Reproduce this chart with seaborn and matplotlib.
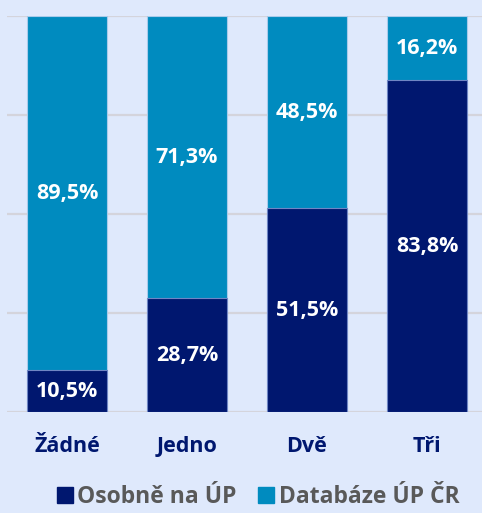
import matplotlib
matplotlib.use("Agg")
import matplotlib.pyplot as plt
import seaborn as sns
import numpy as np
from matplotlib.lines import Line2D

categories = ["Žádné", "Jedno", "Dvě", "Tři"]
osobne = [10.5, 28.7, 51.5, 83.8]
databaze = [89.5, 71.3, 48.5, 16.2]
series_names = ["Osobně na ÚP", "Databáze ÚP ČR"]

navy = "#00176F"
teal = "#008BBF"
bg = "#DFE9FC"
grid_c = "#D4D4DC"
legend_text = "#595959"

sns.set_theme(style="white")
plt.rcParams['font.family'] = ['Open Sans', 'DejaVu Sans']

fig = plt.figure(figsize=(4.82, 5.13), dpi=100, facecolor=bg)
ax = fig.add_axes([7/482, 1 - 412/513, 480/482, 396/513])
ax.set_facecolor(bg)

totals = [a + b for a, b in zip(osobne, databaze)]
sns.barplot(x=categories, y=totals, color=teal, width=0.667, ax=ax,
            edgecolor="#A9CBEA", linewidth=0.8, saturation=1)
sns.barplot(x=categories, y=osobne, color=navy, width=0.667, ax=ax,
            edgecolor="#6F86C4", linewidth=0.8, saturation=1)

ax.set_ylim(0, 100)
ax.set_xlim(-0.5, 3.5)
ax.set_yticks([0, 25, 50, 75, 100])
ax.yaxis.grid(True, color=grid_c, linewidth=1.6)
ax.set_axisbelow(True)
for s in ax.spines.values():
    s.set_visible(False)
ax.set_yticklabels([])
ax.tick_params(axis='y', length=0)
ax.tick_params(axis='x', length=0, pad=17)
ax.set_xlabel("")
ax.set_ylabel("")
for lbl in ax.get_xticklabels():
    lbl.set_fontsize(15.5)
    lbl.set_fontweight("bold")
    lbl.set_color(navy)

for i, (a, b) in enumerate(zip(osobne, databaze)):
    ax.text(i, a / 2, f"{a:.1f}%".replace(".", ","), ha="center", va="center",
            color="white", fontsize=15.5, fontweight="bold")
    ax.text(i, a + b / 2, f"{b:.1f}%".replace(".", ","), ha="center", va="center",
            color="white", fontsize=15.5, fontweight="bold")

handles = [Line2D([], [], marker="s", linestyle="none", markersize=12, color=navy),
           Line2D([], [], marker="s", linestyle="none", markersize=12, color=teal)]
leg = fig.legend(handles, series_names, loc="center", bbox_to_anchor=(0.532, 1 - 497/513),
                 ncol=2, frameon=False, fontsize=16.5, handletextpad=0.05, columnspacing=0.8,
                 handlelength=1.0)
for t in leg.get_texts():
    t.set_color(legend_text)
    t.set_fontweight("bold")

fig.savefig("out.png", dpi=100, facecolor=bg)
